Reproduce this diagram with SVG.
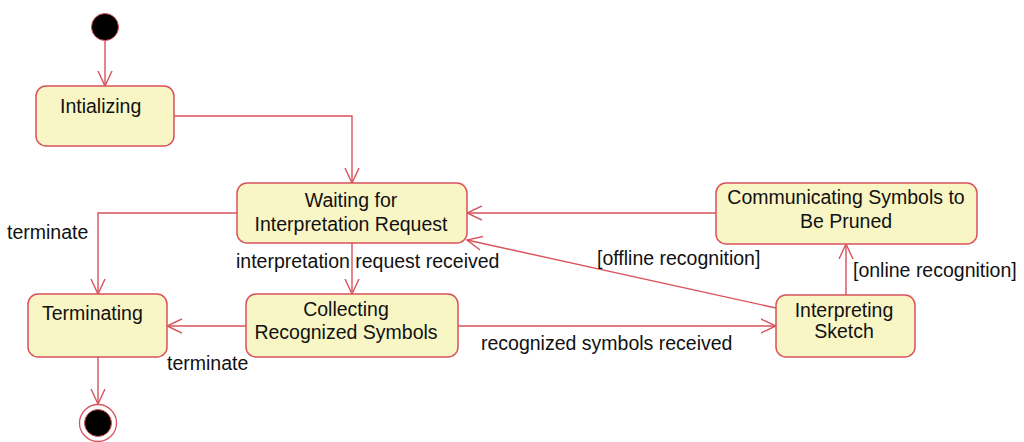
<svg xmlns="http://www.w3.org/2000/svg" width="1024" height="442" viewBox="0 0 1024 442">
  <defs>
    <style>
      .state { fill: #f9f6c6; stroke: #d9525c; stroke-width: 1.5; }
      .edge { fill: none; stroke: #d9525c; stroke-width: 1.4; }
      .txt { font-family: "Liberation Sans", Arial, sans-serif; font-size: 19.5px; fill: #111; }
      .mid { text-anchor: middle; }
    </style>
    <marker id="open-arrow" viewBox="0 0 16 16" refX="15" refY="8" markerWidth="16" markerHeight="16" markerUnits="userSpaceOnUse" orient="auto">
      <path d="M0,1 L15,8 L0,15" fill="none" stroke="#d9525c" stroke-width="1.4"/>
    </marker>
  </defs>
  <rect width="1024" height="442" fill="#ffffff"/>

  <!-- connectors -->
  <g id="connectors">
    <path class="edge" d="M105,41 L105,86" marker-end="url(#open-arrow)"/>
    <path class="edge" d="M174,116 L352,116 L352,183" marker-end="url(#open-arrow)"/>
    <path class="edge" d="M237,213 L98,213 L98,294" marker-end="url(#open-arrow)"/>
    <path class="edge" d="M352,243 L352,294" marker-end="url(#open-arrow)"/>
    <path class="edge" d="M246,326 L167,326" marker-end="url(#open-arrow)"/>
    <path class="edge" d="M98,357 L98,404" marker-end="url(#open-arrow)"/>
    <path class="edge" d="M458,326 L776,326" marker-end="url(#open-arrow)"/>
    <path class="edge" d="M716,213 L467,213" marker-end="url(#open-arrow)"/>
    <path class="edge" d="M776,308 L467,240" marker-end="url(#open-arrow)"/>
    <path class="edge" d="M846,295 L846,244" marker-end="url(#open-arrow)"/>

    <text class="txt" x="7" y="239">terminate</text>
    <text class="txt" x="167" y="370">terminate</text>
    <text class="txt" x="236" y="268">interpretation request received</text>
    <text class="txt" x="597" y="265">[offline recognition]</text>
    <text class="txt" x="481" y="350">recognized symbols received</text>
    <text class="txt" x="853" y="277">[online recognition]</text>
  </g>

  <!-- initial pseudo-state -->
  <g id="initial">
    <circle cx="105" cy="27" r="13.5" fill="#000" stroke="#d9525c" stroke-width="1"/>
  </g>

  <g id="intializing">
    <rect class="state" x="36" y="86" width="138" height="60" rx="10"/>
    <text class="txt" x="60" y="113">Intializing</text>
  </g>

  <g id="waiting">
    <rect class="state" x="237" y="183" width="230" height="60" rx="10"/>
    <text class="txt mid" x="351" y="207">Waiting for</text>
    <text class="txt mid" x="351" y="231">Interpretation Request</text>
  </g>

  <g id="terminating">
    <rect class="state" x="28" y="294" width="139" height="63" rx="10"/>
    <text class="txt" x="42" y="320">Terminating</text>
  </g>

  <g id="collecting">
    <rect class="state" x="246" y="294" width="212" height="63" rx="10"/>
    <text class="txt mid" x="346" y="316">Collecting</text>
    <text class="txt mid" x="346" y="339">Recognized Symbols</text>
  </g>

  <g id="communicating">
    <rect class="state" x="716" y="183" width="261" height="61" rx="10"/>
    <text class="txt mid" x="846" y="204">Communicating Symbols to</text>
    <text class="txt mid" x="846" y="228">Be Pruned</text>
  </g>

  <g id="interpreting">
    <rect class="state" x="776" y="295" width="139" height="62" rx="10"/>
    <text class="txt mid" x="844" y="317">Interpreting</text>
    <text class="txt mid" x="844" y="338">Sketch</text>
  </g>

  <!-- final state -->
  <g id="final">
    <circle cx="98" cy="423" r="18.5" fill="#fff" stroke="#d9525c" stroke-width="1.3"/>
    <circle cx="98" cy="423" r="13.5" fill="#000" stroke="#d9525c" stroke-width="1"/>
  </g>
</svg>
